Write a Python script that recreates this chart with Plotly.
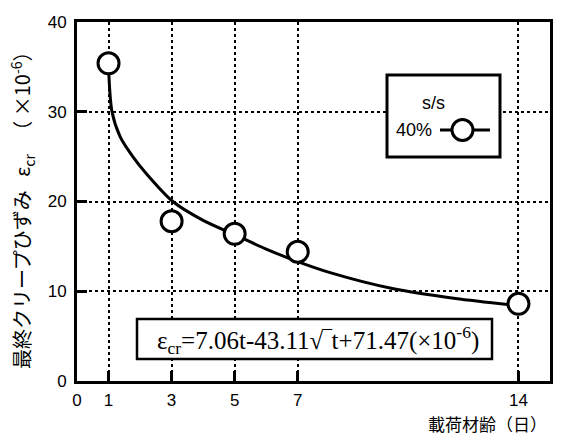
import plotly.graph_objects as go

# Measured data (loading age in days, final creep strain ×10^-6)
age_days = [1, 3, 5, 7, 14]
creep_strain = [35.4, 17.8, 16.4, 14.4, 8.6]

# Fitted curve
curve_t = [1, 1.11, 1.37, 1.77, 2.2, 3.04, 4, 5, 6, 7, 8, 10, 12, 14]
curve_v = [35.0, 30.0, 27.2, 25.0, 23.1, 20.0, 17.9, 16.3, 14.7, 13.3, 12.1, 10.3, 9.2, 8.4]

x_ticks = [0, 1, 3, 5, 7, 14]
y_ticks = [0, 10, 20, 30, 40]

W, H = 561, 439
L, R, T, B = 77, 550, 22, 381

def px(x):
    return (x - L) / (R - L)

def py(y):
    return (B - y) / (B - T)

fig = go.Figure()
fig.add_trace(go.Scatter(x=curve_t, y=curve_v, mode="lines",
                         line=dict(color="black", width=3, shape="spline", smoothing=0.8),
                         showlegend=False, hoverinfo="skip"))
fig.add_trace(go.Scatter(x=age_days, y=creep_strain, mode="markers",
                         marker=dict(symbol="circle", size=21, color="white",
                                     line=dict(color="black", width=3)),
                         showlegend=False))

tickfont = dict(family="Liberation Sans Narrow, Arial Narrow, Liberation Sans, Arial", size=17, color="black")

fig.update_xaxes(range=[0, 15], tickvals=x_ticks, ticktext=[str(v) for v in x_ticks],
                 showline=True, linecolor="black", linewidth=3, mirror=True,
                 ticks="inside", ticklen=10, tickwidth=3, tickcolor="black",
                 showgrid=True, gridcolor="black", gridwidth=2, griddash="dot",
                 zeroline=False, tickfont=tickfont, ticklabelstandoff=2)
fig.update_yaxes(range=[0, 40], tickvals=y_ticks, ticktext=[str(v) for v in y_ticks],
                 showline=True, linecolor="black", linewidth=3, mirror=True,
                 ticks="inside", ticklen=10, tickwidth=3, tickcolor="black",
                 showgrid=True, gridcolor="black", gridwidth=2, griddash="dot",
                 zeroline=False, tickfont=tickfont, ticklabelstandoff=4)

shapes = []
annotations = []

# Legend box
shapes.append(dict(type="rect", xref="paper", yref="paper",
                   x0=px(387), x1=px(500), y0=py(157), y1=py(75),
                   fillcolor="white", line=dict(color="black", width=3)))
shapes.append(dict(type="line", xref="paper", yref="paper",
                   x0=px(440), x1=px(490), y0=py(130), y1=py(130),
                   line=dict(color="black", width=3)))
shapes.append(dict(type="circle", xref="paper", yref="paper",
                   x0=px(452), x1=px(473), y0=py(140.5), y1=py(119.5),
                   fillcolor="white", line=dict(color="black", width=3)))
lgfont = dict(family="Liberation Sans Narrow, Arial Narrow, Liberation Sans, Arial", size=18, color="black")
annotations.append(dict(xref="paper", yref="paper", x=px(433), y=py(103), text="s/s",
                        showarrow=False, font=lgfont, xanchor="center", yanchor="middle"))
annotations.append(dict(xref="paper", yref="paper", x=px(414), y=py(130), text="40%",
                        showarrow=False, font=lgfont, xanchor="center", yanchor="middle"))

# Equation box
shapes.append(dict(type="rect", xref="paper", yref="paper",
                   x0=px(137), x1=px(492), y0=py(359), y1=py(319),
                   fillcolor="white", line=dict(color="black", width=2.5)))
annotations.append(dict(xref="paper", yref="paper", x=px(318), y=py(340),
                        text="ε<sub>cr</sub>=7.06t-43.11√‾t+71.47(×10<sup>-6</sup>)",
                        showarrow=False, xanchor="center", yanchor="middle",
                        font=dict(family="Liberation Serif, Times New Roman, serif", size=25, color="black")))

# Axis titles
cjk = "Noto Sans CJK JP, Noto Sans CJK SC, sans-serif"
annotations.append(dict(xref="paper", yref="paper", x=px(22), y=py(205),
                        text="最終クリープひずみ   ε<sub>cr</sub>   （ ×10<sup>-6</sup>）",
                        textangle=-90, showarrow=False, xanchor="center", yanchor="middle",
                        font=dict(family=cjk, size=20, color="black")))
annotations.append(dict(xref="paper", yref="paper", x=px(549), y=py(423),
                        text="載荷材齢（日）", showarrow=False, xanchor="right", yanchor="middle",
                        font=dict(family=cjk, size=17, color="black")))

fig.update_layout(width=W, height=H, margin=dict(l=L, r=W - R, t=T, b=H - B, autoexpand=False),
                  plot_bgcolor="white", paper_bgcolor="white",
                  shapes=shapes, annotations=annotations, showlegend=False)

fig.write_html("out.html")
